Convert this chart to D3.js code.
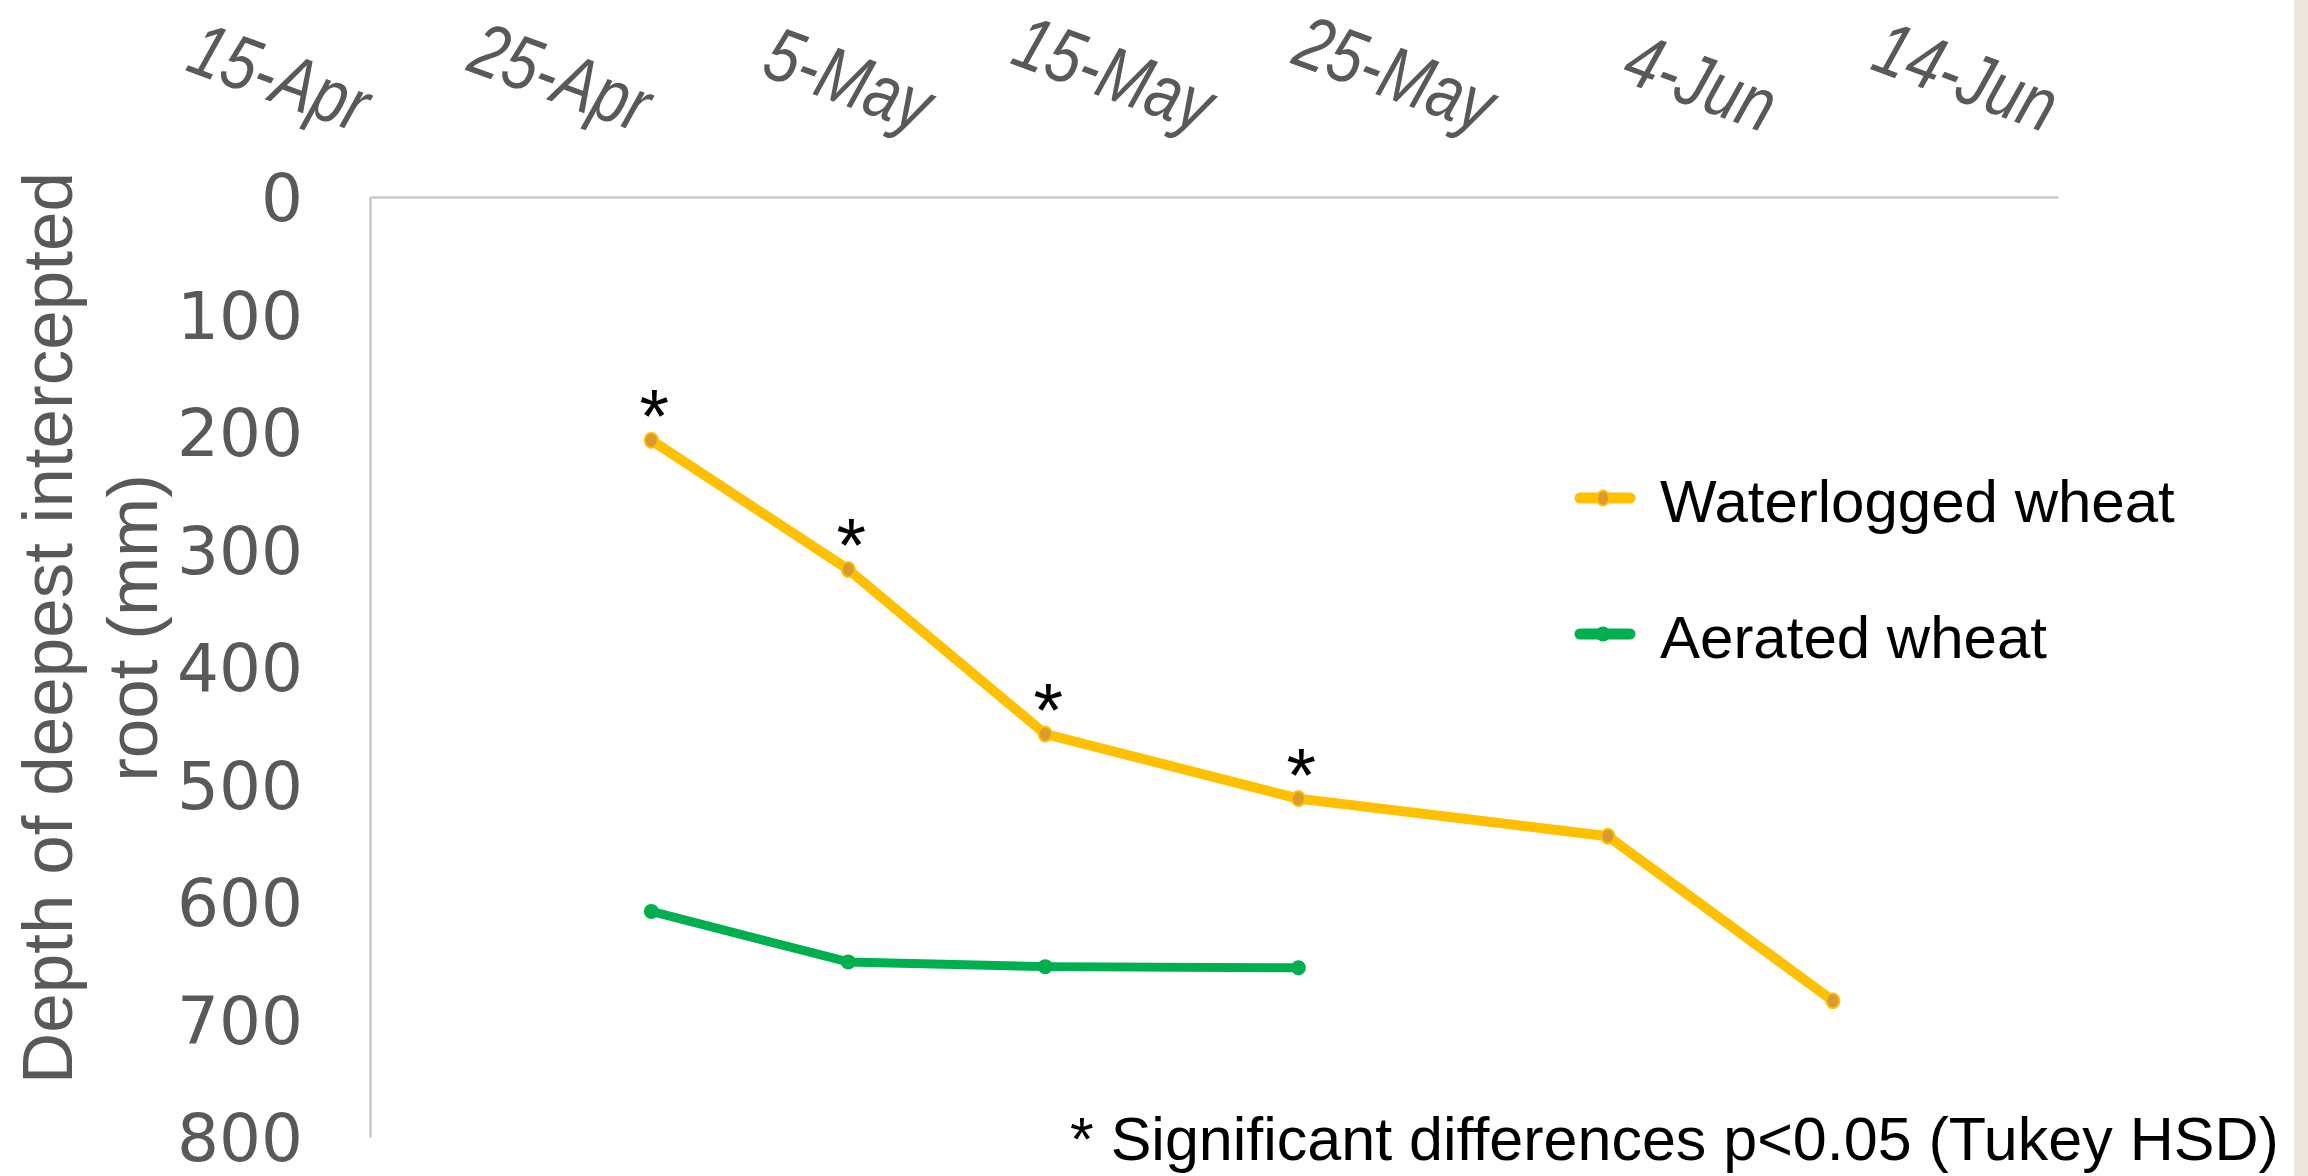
<!DOCTYPE html>
<html>
<head>
<meta charset="utf-8">
<script src="https://cdn.jsdelivr.net/npm/d3@7"></script>
<style>
  html, body { margin: 0; padding: 0; background: #ffffff; }
  svg { display: block; }
</style>
</head>
<body>
<script>
// ---------- DATA ----------
const tickDates  = ["2017-04-15","2017-04-25","2017-05-05","2017-05-15","2017-05-25","2017-06-04","2017-06-14"];
const tickLabels = ["15-Apr","25-Apr","5-May","15-May","25-May","4-Jun","14-Jun"];
const yTicks     = [0,100,200,300,400,500,600,700,800];

const waterloggedDates = ["2017-04-25","2017-05-02","2017-05-09","2017-05-18","2017-05-29","2017-06-06"];
const waterloggedDepth = [207, 317, 457, 512, 544, 684];
const significant      = [true, true, true, true, false, false];

const aeratedDates = ["2017-04-25","2017-05-02","2017-05-09","2017-05-18"];
const aeratedDepth = [608, 651, 655, 656];

const seriesNames = ["Waterlogged wheat", "Aerated wheat"];
const yTitleLines = ["Depth of deepest intercepted", "root (mm)"];
const footnote = "* Significant differences p<0.05 (Tukey HSD)";

// ---------- LAYOUT ----------
const W = 2308, H = 1176;
const plot = { left: 370, right: 2058, top: 197, bottom: 1137 };
const gray = "#595959";
const yellow = "#FFC000", yellowFill = "#DA9A2E", green = "#00B050";

const parse = d3.utcParse("%Y-%m-%d");

const svg = d3.select("body").append("svg")
  .attr("width", W).attr("height", H);

svg.append("rect").attr("width", W).attr("height", H).attr("fill", "#ffffff");
svg.append("rect").attr("x", 2294).attr("y", 0).attr("width", W - 2294).attr("height", H).attr("fill", "#EBE7DD");

const x = d3.scaleUtc()
  .domain([parse(tickDates[0]), parse(tickDates[tickDates.length - 1])])
  .range([plot.left, plot.right]);

const y = d3.scaleLinear()
  .domain([0, 800])
  .range([plot.top, plot.bottom]);

// ---------- AXES ----------
const xAxis = d3.axisTop(x)
  .tickValues(tickDates.map(parse))
  .tickFormat((d, i) => tickLabels[i])
  .tickSize(0)
  .tickSizeOuter(0);

const gx = svg.append("g")
  .attr("transform", `translate(0,${plot.top})`)
  .call(xAxis);
gx.select(".domain").attr("stroke", "#C8C8C8").attr("stroke-width", 2.5);
gx.selectAll(".tick text")
  .attr("font-family", "'Liberation Sans', Arial, sans-serif")
  .attr("font-size", 67)
  .attr("font-style", "italic")
  .attr("fill", gray)
  .attr("text-anchor", "end")
  .attr("dy", null)
  .attr("x", 0)
  .attr("y", 0)
  .attr("transform", "translate(-13,-64) rotate(20) scale(0.92,1.13)");

const yAxis = d3.axisLeft(y)
  .tickValues(yTicks)
  .tickSize(0)
  .tickSizeOuter(0)
  .tickPadding(67);

const gy = svg.append("g")
  .attr("transform", `translate(${plot.left},0)`)
  .call(yAxis);
gy.select(".domain").attr("stroke", "#C8C8C8").attr("stroke-width", 2.5);
gy.selectAll(".tick text")
  .attr("font-family", "'DejaVu Sans', Verdana, sans-serif")
  .attr("font-size", 66)
  .attr("fill", gray)
  .attr("dy", "0.36em");

// y axis title
const titleX = [72, 157];
yTitleLines.forEach((t, i) => {
  svg.append("text")
    .attr("transform", `translate(${titleX[i]},628) rotate(-90)`)
    .attr("text-anchor", "middle")
    .attr("font-family", "'Liberation Sans', Arial, sans-serif")
    .attr("font-size", 71)
    .attr("fill", gray)
    .text(t);
});

// ---------- SERIES ----------
const wData = waterloggedDates.map((d, i) => ({ date: parse(d), v: waterloggedDepth[i], sig: significant[i] }));
const aData = aeratedDates.map((d, i) => ({ date: parse(d), v: aeratedDepth[i] }));

const line = d3.line().x(d => x(d.date)).y(d => y(d.v));

svg.append("path").datum(aData)
  .attr("d", line)
  .attr("fill", "none")
  .attr("stroke", green)
  .attr("stroke-width", 9)
  .attr("stroke-linejoin", "round")
  .attr("stroke-linecap", "round");

svg.selectAll(".amark").data(aData).enter().append("circle")
  .attr("cx", d => x(d.date)).attr("cy", d => y(d.v))
  .attr("r", 7.5).attr("fill", green);

svg.append("path").datum(wData)
  .attr("d", line)
  .attr("fill", "none")
  .attr("stroke", yellow)
  .attr("stroke-width", 10)
  .attr("stroke-linejoin", "round")
  .attr("stroke-linecap", "round");

svg.selectAll(".wmark").data(wData).enter().append("ellipse")
  .attr("cx", d => x(d.date)).attr("cy", d => y(d.v))
  .attr("rx", 6.5).attr("ry", 7.5)
  .attr("fill", yellowFill)
  .attr("stroke", yellow).attr("stroke-width", 2);

// significance asterisks
svg.selectAll(".sig").data(wData.filter(d => d.sig)).enter().append("text")
  .attr("x", d => x(d.date) + 3)
  .attr("y", d => y(d.v) + 2)
  .attr("text-anchor", "middle")
  .attr("font-family", "'Liberation Sans', Arial, sans-serif")
  .attr("font-size", 76)
  .attr("fill", "#000")
  .text("*");

// ---------- LEGEND ----------
const legendRows = [498, 634];
const legendColors = [yellow, green];
seriesNames.forEach((name, i) => {
  const g = svg.append("g").attr("transform", `translate(0,${legendRows[i]})`);
  g.append("line")
    .attr("x1", 1580).attr("x2", 1630).attr("y1", 0).attr("y2", 0)
    .attr("stroke", legendColors[i]).attr("stroke-width", 11)
    .attr("stroke-linecap", "round");
  if (i === 0) {
    g.append("ellipse").attr("cx", 1603).attr("cy", 0).attr("rx", 6).attr("ry", 7.5)
      .attr("fill", yellowFill).attr("stroke", yellow).attr("stroke-width", 2);
  } else {
    g.append("circle").attr("cx", 1603).attr("cy", 0).attr("r", 7.5).attr("fill", green);
  }
  g.append("text")
    .attr("x", 1660).attr("y", 24)
    .attr("font-family", "'Liberation Sans', Arial, sans-serif")
    .attr("font-size", 60)
    .attr("fill", "#000")
    .text(name);
});

// ---------- FOOTNOTE ----------
svg.append("text")
  .attr("x", 1070).attr("y", 1160)
  .attr("font-family", "'Liberation Sans', Arial, sans-serif")
  .attr("font-size", 61)
  .attr("fill", "#000")
  .text(footnote);
</script>
</body>
</html>
